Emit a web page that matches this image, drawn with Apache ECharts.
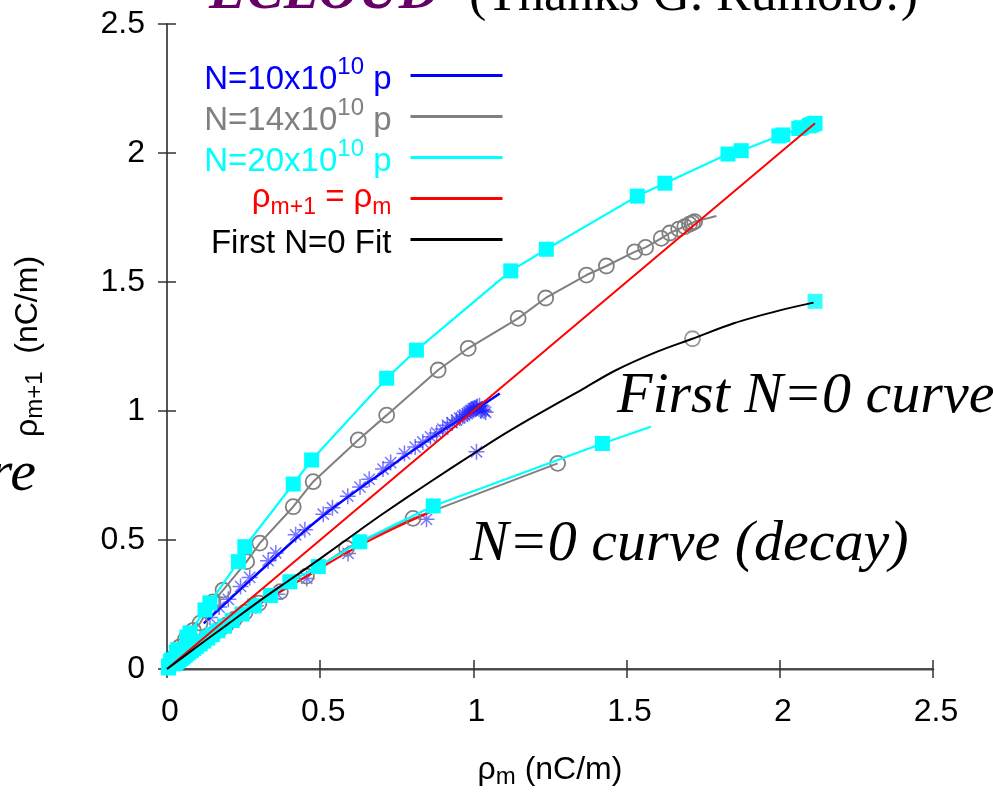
<!DOCTYPE html>
<html><head><meta charset="utf-8">
<script src="https://cdn.jsdelivr.net/npm/echarts@6/dist/echarts.min.js"></script>
<style>html,body{margin:0;padding:0;background:#fff;}#c{width:993px;height:798px;}</style>
</head><body><div id="c"></div>
<script>
// ---------- tick labels ----------
const X_TICKS = ['0', '0.5', '1', '1.5', '2', '2.5'];
const Y_TICKS = ['0', '0.5', '1', '1.5', '2', '2.5'];

// ---------- legend names ----------
const NAMES = ['N10', 'N14', 'N20', 'rho', 'fit'];

// ---------- N = 10x10^10 p (blue) ----------
const BLUE_FIT = [[0.12,0.177],[0.2,0.265],[0.3,0.375],[0.42,0.505],[0.5,0.585],[0.6,0.675],[0.7,0.76],[0.8,0.845],[0.9,0.925],[1.0,1.0],[1.086,1.068]];
const BLUE_UP = [[0.14,0.2],[0.17,0.24],[0.2,0.27],[0.24,0.32],[0.27,0.355],[0.33,0.42],[0.355,0.45],[0.42,0.52],[0.45,0.54],[0.51,0.6],[0.54,0.625],[0.59,0.67],[0.63,0.705],[0.66,0.735],[0.705,0.775],[0.73,0.8],[0.775,0.835],[0.81,0.86],[0.835,0.88],[0.86,0.9],[0.88,0.915],[0.9,0.93],[0.915,0.945],[0.93,0.955],[0.945,0.965],[0.955,0.972],[0.965,0.98],[0.972,0.985],[0.98,0.99],[0.985,0.995],[0.99,1.0],[0.995,1.003],[1.0,1.008],[1.003,1.01],[1.008,1.013],[1.01,1.015],[1.013,1.017],[1.02,1.02],[1.025,1.0],[1.03,1.005],[1.035,1.0],[1.04,0.995]];
const BLUE_FIRST0 = [[1.01,0.842]];
const BLUE_DECAY = [[0.847,0.58],[0.591,0.448],[0.456,0.351],[0.36,0.29],[0.29,0.245],[0.245,0.212],[0.212,0.186],[0.186,0.165],[0.165,0.147],[0.147,0.132],[0.132,0.119],[0.119,0.107],[0.107,0.096],[0.096,0.086],[0.086,0.077],[0.077,0.069],[0.069,0.062],[0.062,0.055],[0.055,0.049],[0.049,0.044],[0.044,0.039],[0.039,0.035],[0.035,0.031],[0.031,0.027],[0.027,0.024],[0.024,0.021]];

// ---------- N = 14x10^10 p (gray) ----------
const GRAY_UP = [[0.01,0.02],[0.02,0.042],[0.042,0.086],[0.06,0.115],[0.086,0.15],[0.108,0.178],[0.15,0.26],[0.183,0.306],[0.26,0.416],[0.303,0.488],[0.412,0.629],[0.477,0.726],[0.624,0.888],[0.717,0.984],[0.885,1.159],[0.983,1.243],[1.146,1.359],[1.236,1.438],[1.369,1.527],[1.434,1.562],[1.526,1.617],[1.562,1.634],[1.613,1.669],[1.641,1.69],[1.67,1.705],[1.69,1.715],[1.705,1.724],[1.715,1.729],[1.722,1.734]];
const GRAY_UP_END = [1.793,1.756];
const GRAY_FIRST0 = [[1.715,1.28]];
const GRAY_DECAY = [[0.026,0.023],[0.029,0.026],[0.033,0.029],[0.037,0.033],[0.041,0.037],[0.046,0.041],[0.051,0.046],[0.057,0.051],[0.064,0.057],[0.071,0.064],[0.079,0.071],[0.088,0.079],[0.098,0.088],[0.109,0.098],[0.121,0.109],[0.135,0.121],[0.151,0.135],[0.17,0.151],[0.193,0.17],[0.22,0.193],[0.255,0.22],[0.3,0.255],[0.37,0.3],[0.455,0.36],[0.586,0.468],[0.803,0.584],[1.275,0.797]];

// ---------- N = 20x10^10 p (cyan) ----------
const CYAN_UP = [[0.005,0.012],[0.012,0.03],[0.015,0.035],[0.03,0.065],[0.035,0.075],[0.065,0.124],[0.075,0.14],[0.124,0.229],[0.14,0.256],[0.233,0.416],[0.254,0.474],[0.412,0.717],[0.472,0.81],[0.717,1.127],[0.814,1.236],[1.122,1.543],[1.238,1.627],[1.535,1.833],[1.625,1.883],[1.831,1.996],[1.874,2.009],[1.997,2.066],[2.01,2.07],[2.062,2.095],[2.07,2.098],[2.095,2.105],[2.1,2.108],[2.105,2.11],[2.11,2.113],[2.115,2.115]];
const CYAN_FIRST0 = [[2.115,1.425]];
const CYAN_DECAY = [[0.005,0.004],[0.022,0.02],[0.025,0.022],[0.028,0.025],[0.031,0.028],[0.035,0.031],[0.039,0.035],[0.043,0.039],[0.048,0.043],[0.053,0.048],[0.059,0.053],[0.065,0.059],[0.072,0.065],[0.08,0.072],[0.088,0.08],[0.097,0.088],[0.108,0.097],[0.12,0.108],[0.133,0.12],[0.148,0.133],[0.166,0.148],[0.188,0.166],[0.213,0.188],[0.245,0.213],[0.285,0.245],[0.338,0.285],[0.401,0.338],[0.494,0.397],[0.629,0.493],[0.869,0.632],[1.421,0.874]];
const CYAN_DECAY_END = [1.579,0.939];

// ---------- reference lines ----------
const RED_IDENTITY = [[0,0],[2.115,2.115]];
const RED_DECAY = [[0,0],[0.15,0.13],[0.3,0.25],[0.45,0.355],[0.6,0.46],[0.75,0.55],[0.886,0.622]];
const BLACK_FIT = [[0,0],[0.1,0.088],[0.2,0.175],[0.3,0.262],[0.4,0.345],[0.5,0.428],[0.63,0.539],[0.7,0.598],[0.85,0.718],[1.01,0.842],[1.1,0.91],[1.2,0.98],[1.35,1.08],[1.46,1.155],[1.6,1.23],[1.715,1.28],[1.85,1.34],[2.0,1.39],[2.11,1.42]];

// ---------- styles ----------
const C_BLUE = '#0000ff', C_GRAY = '#808080', C_CYAN = '#00ffff', C_RED = '#ff0000', C_BLACK = '#000000';
const STAR = 'path://M0,-10L0,10M-10,0L10,0M-7,-7L7,7M-7,7L7,-7';
const SANS = '"Liberation Sans", Arial, Helvetica, sans-serif';
const SERIF = '"Liberation Serif", "Times New Roman", serif';

const LEGEND_TEXT = {
  N10: '{n|N=10x10}{p|10}{n| p}{g| }',
  N14: '{n|N=14x10}{p|10}{n| p}{g| }',
  N20: '{n|N=20x10}{p|10}{n| p}{g| }',
  rho: '{m|ρ}{b|m+1}{m| = ρ}{b|m}{g| }',
  fit: '{n|First N=0 Fit}{g| }'
};

const chart = echarts.init(document.getElementById('c'), null, {renderer: 'canvas'});

const starStyle = {color: 'none', borderColor: 'rgba(30,30,255,0.75)', borderWidth: 1.5};
const circleStyle = {color: 'rgba(0,0,0,0)', borderColor: C_GRAY, borderWidth: 1.8};

function legendItem(name, color) {
  return {name: name, textStyle: {color: color},
    itemStyle: {color: color, borderColor: color, borderWidth: 0, opacity: 1},
    lineStyle: {color: color, width: 3}};
}

const option = {
  animation: false,
  backgroundColor: '#ffffff',
  grid: {left: 167, right: 60, top: 24, bottom: 129, containLabel: false},
  xAxis: [{
    type: 'value', min: 0, max: 2.5, interval: 0.5, position: 'bottom',
    name: '{r|ρ}{s|m}{r| (nC/m)}', nameLocation: 'middle', nameGap: 83,
    nameTextStyle: {fontFamily: SANS, color: '#000', rich: {
      r: {fontFamily: SANS, fontSize: 32, lineHeight: 37, color: '#000'},
      s: {fontFamily: SANS, fontSize: 24, lineHeight: 18, verticalAlign: 'bottom', color: '#000'}}},
    axisLine: {show: true, lineStyle: {color: '#888', width: 2.5}},
    axisTick: {show: true, inside: true, length: 9, lineStyle: {color: '#333', width: 1.5}},
    axisLabel: {fontFamily: SANS, fontSize: 32, color: '#000', margin: 27, padding: [0, 0, 0, 6],
      formatter: (v) => X_TICKS[Math.round(v / 0.5)]},
    splitLine: {show: false}
  }, {
    type: 'value', min: 0, max: 2.5, interval: 0.5, position: 'top',
    axisLine: {show: true, lineStyle: {color: '#333', width: 1.5}},
    axisTick: {show: true, inside: true, length: 9, lineStyle: {color: '#333', width: 1.5}},
    axisLabel: {show: false}, splitLine: {show: false}
  }],
  yAxis: [{
    type: 'value', min: 0, max: 2.5, interval: 0.5, position: 'left',
    name: '{r|ρ}{s|m+1}{r|  (nC/m)}', nameLocation: 'middle', nameGap: 120,
    nameTextStyle: {fontFamily: SANS, color: '#000', rich: {
      r: {fontFamily: SANS, fontSize: 32, lineHeight: 37, color: '#000'},
      s: {fontFamily: SANS, fontSize: 24, lineHeight: 18, verticalAlign: 'bottom', color: '#000'}}},
    axisLine: {show: true, lineStyle: {color: '#222', width: 1.5}},
    axisTick: {show: true, inside: true, length: 9, lineStyle: {color: '#333', width: 1.5}},
    axisLabel: {fontFamily: SANS, fontSize: 32, color: '#000', margin: 22,
      formatter: (v) => Y_TICKS[Math.round(v / 0.5)]},
    splitLine: {show: false}
  }, {
    type: 'value', min: 0, max: 2.5, interval: 0.5, position: 'right',
    axisLine: {show: true, lineStyle: {color: '#555', width: 1.5}},
    axisTick: {show: true, inside: true, length: 9, lineStyle: {color: '#333', width: 1.5}},
    axisLabel: {show: false}, splitLine: {show: false}
  }],
  legend: {
    orient: 'vertical', right: 489, top: 55, padding: 0, itemGap: 0,
    itemWidth: 92, itemHeight: 3, align: 'right', selectedMode: false,
    formatter: (name) => LEGEND_TEXT[name],
    textStyle: {fontFamily: SANS, fontSize: 33, lineHeight: 41, rich: {
      n: {fontFamily: SANS, fontSize: 33, lineHeight: 41, verticalAlign: 'bottom'},
      m: {fontFamily: SANS, fontSize: 33, lineHeight: 41, verticalAlign: 'bottom', padding: [0, 0, 5, 0]},
      p: {fontFamily: SANS, fontSize: 24, lineHeight: 20, verticalAlign: 'top'},
      b: {fontFamily: SANS, fontSize: 23, lineHeight: 20, verticalAlign: 'bottom'},
      g: {fontFamily: SANS, fontSize: 33, lineHeight: 41, width: 14}
    }},
    data: [
      legendItem('N10', C_BLUE), legendItem('N14', C_GRAY), legendItem('N20', C_CYAN),
      legendItem('rho', C_RED), legendItem('fit', C_BLACK)
    ]
  },
  series: [
    // blue
    {name: 'N10', type: 'line', data: BLUE_FIT, symbol: 'none', smooth: 0.3,
      lineStyle: {color: C_BLUE, width: 2.5}, itemStyle: {color: C_BLUE}, z: 2},
    {name: 'N10', type: 'scatter', data: BLUE_UP, symbol: STAR, symbolSize: 16, itemStyle: starStyle, z: 2},
    {name: 'N10', type: 'scatter', data: BLUE_FIRST0.concat(BLUE_DECAY), symbol: STAR, symbolSize: 16, itemStyle: starStyle, z: 2},
    // gray
    {name: 'N14', type: 'line', data: GRAY_UP.concat([{value: GRAY_UP_END, symbol: 'none'}]), symbol: 'circle', symbolSize: 15,
      lineStyle: {color: C_GRAY, width: 2}, itemStyle: circleStyle, z: 3},
    {name: 'N14', type: 'scatter', data: GRAY_FIRST0, symbol: 'circle', symbolSize: 15, itemStyle: circleStyle, z: 3},
    {name: 'N14', type: 'line', data: GRAY_DECAY, symbol: 'circle', symbolSize: 15,
      lineStyle: {color: C_GRAY, width: 2}, itemStyle: circleStyle, z: 3},
    // cyan
    {name: 'N20', type: 'line', data: CYAN_UP, symbol: 'rect', symbolSize: 15,
      lineStyle: {color: C_CYAN, width: 2.2}, itemStyle: {color: C_CYAN}, z: 4},
    {name: 'N20', type: 'scatter', data: CYAN_FIRST0, symbol: 'rect', symbolSize: 15, itemStyle: {color: C_CYAN}, z: 4},
    {name: 'N20', type: 'line', data: CYAN_DECAY.concat([{value: CYAN_DECAY_END, symbol: 'none'}]), symbol: 'rect', symbolSize: 15,
      lineStyle: {color: C_CYAN, width: 2.2}, itemStyle: {color: C_CYAN}, z: 4},
    // red
    {name: 'rho', type: 'line', data: RED_IDENTITY, symbol: 'none',
      lineStyle: {color: C_RED, width: 2}, itemStyle: {color: C_RED}, z: 5},
    {name: 'rhoDecay', type: 'line', data: RED_DECAY, symbol: 'none', smooth: 0.3,
      lineStyle: {color: C_RED, width: 2}, itemStyle: {color: C_RED}, z: 3},
    // black fit
    {name: 'fit', type: 'line', data: BLACK_FIT, symbol: 'none', smooth: 0.3,
      lineStyle: {color: C_BLACK, width: 2}, itemStyle: {color: C_BLACK}, z: 6}
  ],
  graphic: [
    {type: 'text', x: 209, y: -6, z: 100, style: {text: 'ECLOUD', fontFamily: SERIF, fontSize: 56, fontStyle: 'italic', fontWeight: 'bold', fill: '#660066', verticalAlign: 'middle', align: 'left'}},
    {type: 'text', x: 469, y: -4, z: 100, style: {text: '(Thanks G. Rumolo!)', fontFamily: SERIF, fontSize: 52, fill: '#000', verticalAlign: 'middle', align: 'left'}},
    {type: 'text', x: 617, y: 397, z: 100, style: {text: 'First N=0 curve', fontFamily: SERIF, fontSize: 58, fontStyle: 'italic', fill: '#000', verticalAlign: 'middle', align: 'left'}},
    {type: 'text', x: 470, y: 545, z: 100, style: {text: 'N=0 curve (decay)', fontFamily: SERIF, fontSize: 58, fontStyle: 'italic', fill: '#000', verticalAlign: 'middle', align: 'left'}},
    {type: 'text', x: 36, y: 475, z: 100, style: {text: 're', fontFamily: SERIF, fontSize: 58, fontStyle: 'italic', fill: '#000', verticalAlign: 'middle', align: 'right'}}
  ]
};
chart.setOption(option);
</script>
</body></html>
